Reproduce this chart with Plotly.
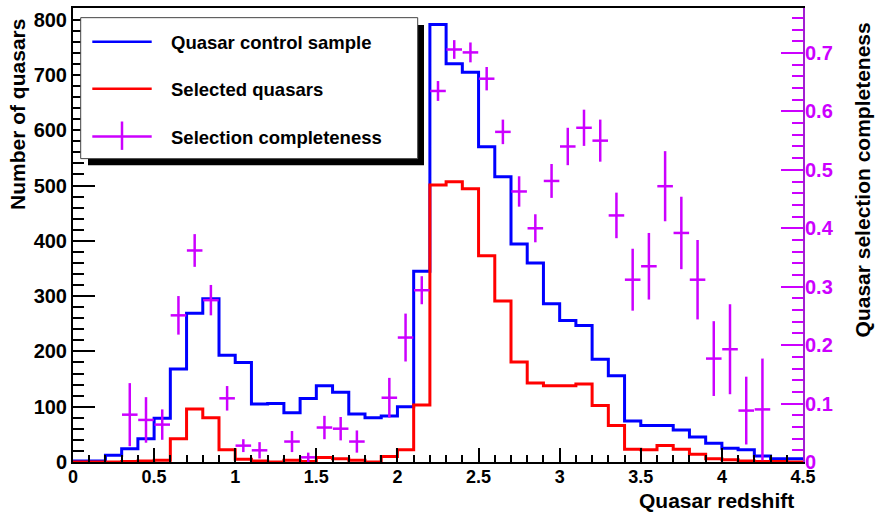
import plotly.graph_objects as go

# ---------------- data ----------------
bin_edges = [0.0, 0.1, 0.2, 0.3, 0.4, 0.5, 0.6, 0.7, 0.8, 0.9, 1.0, 1.1, 1.2, 1.3, 1.4,
             1.5, 1.6, 1.7, 1.8, 1.9, 2.0, 2.1, 2.2, 2.3, 2.4, 2.5, 2.6, 2.7, 2.8, 2.9,
             3.0, 3.1, 3.2, 3.3, 3.4, 3.5, 3.6, 3.7, 3.8, 3.9, 4.0, 4.1, 4.2, 4.3, 4.4, 4.5]

control_sample = [2, 2, 12, 24, 42, 79, 168, 269, 295, 193,
                  180, 105, 106, 89, 115, 138, 126, 87, 80, 83,
                  100, 345, 791, 720, 705, 570, 516, 394, 360, 286,
                  256, 247, 186, 156, 74, 66, 66, 58, 45, 34,
                  25, 22, 11, 6, 6]

selected_quasars = [0, 0, 0, 1, 2, 3, 42, 96, 80, 22,
                    5, 2, 0, 3, 1, 8, 6, 3, 0, 10,
                    22, 103, 501, 507, 494, 373, 291, 181, 143, 138,
                    138, 141, 102, 66, 23, 22, 30, 23, 14, 6,
                    4, 2, 1, 1, 0]

comp_z = [0.35, 0.45, 0.55, 0.65, 0.75, 0.85, 0.95, 1.05, 1.15,
          1.35, 1.45, 1.55, 1.65, 1.75,
          1.95, 2.05, 2.15, 2.25, 2.35, 2.45, 2.55, 2.65, 2.75, 2.85, 2.95,
          3.05, 3.15, 3.25, 3.35, 3.45, 3.55, 3.65, 3.75, 3.85, 3.95, 4.05, 4.15, 4.25]
completeness = [0.081, 0.072, 0.064, 0.251, 0.362, 0.277, 0.109, 0.028, 0.020,
                0.035, 0.008, 0.059, 0.057, 0.035,
                0.110, 0.213, 0.294, 0.635, 0.706, 0.701, 0.656, 0.565, 0.463, 0.400, 0.481,
                0.540, 0.572, 0.550, 0.422, 0.312, 0.335, 0.472, 0.392, 0.312, 0.177, 0.193, 0.088, 0.090]
completeness_err = [0.054, 0.039, 0.026, 0.033, 0.028, 0.026, 0.021, 0.011, 0.014,
                    0.018, 0.008, 0.020, 0.020, 0.019,
                    0.034, 0.041, 0.024, 0.017, 0.016, 0.017, 0.020, 0.021, 0.026, 0.024, 0.029,
                    0.032, 0.031, 0.036, 0.039, 0.053, 0.057, 0.060, 0.062, 0.068, 0.064, 0.077, 0.058, 0.087]
bin_half_width = 0.048

legend_labels = ["Quasar control sample", "Selected quasars", "Selection completeness"]

# ---------------- style ----------------
BLUE = "#0000ff"
RED = "#ff0000"
MAG = "#cc00ff"
AXIS2 = "#a21fd0"
FONT = "Liberation Sans, Arial, Helvetica, sans-serif"

W, H = 876, 512
L, R, T, B = 73, 73, 6, 50
PW, PH = W - L - R, H - T - B


def px(x):
    return (x - L) / PW


def py(y):
    return (H - B - y) / PH


def step(values):
    return bin_edges, list(values) + [values[-1]]


fig = go.Figure()

xs, ys = step(control_sample)
fig.add_trace(go.Scatter(x=xs, y=ys, mode="lines", line=dict(color=BLUE, width=3, shape="hv"),
                         name=legend_labels[0], showlegend=False))
xs, ys = step(selected_quasars)
fig.add_trace(go.Scatter(x=xs, y=ys, mode="lines", line=dict(color=RED, width=3, shape="hv"),
                         name=legend_labels[1], showlegend=False))
fig.add_trace(go.Scatter(
    x=comp_z, y=completeness, yaxis="y2", mode="markers",
    marker=dict(size=1, color=MAG, opacity=0),
    error_y=dict(type="data", array=completeness_err, color=MAG, thickness=2.5, width=0),
    error_x=dict(type="constant", value=bin_half_width, color=MAG, thickness=2.5, width=0),
    name=legend_labels[2], showlegend=False))

# ---------------- legend (manual, ROOT style) ----------------
shapes = []
shapes.append(dict(type="rect", xref="paper", yref="paper",
                   x0=px(88), x1=px(424), y0=py(164), y1=py(23),
                   fillcolor="black", line=dict(width=0), layer="above"))
shapes.append(dict(type="rect", xref="paper", yref="paper",
                   x0=px(80.7), x1=px(417.7), y0=py(157.3), y1=py(15.7),
                   fillcolor="white", line=dict(color="#444444", width=1), layer="above"))
row_y = [40, 87, 135]
colors = [BLUE, RED, MAG]
for yy, col in zip(row_y, colors):
    shapes.append(dict(type="line", xref="paper", yref="paper",
                       x0=px(92.3), x1=px(151.7), y0=py(yy), y1=py(yy),
                       line=dict(color=col, width=2.5), layer="above"))
shapes.append(dict(type="line", xref="paper", yref="paper",
                   x0=px(122), x1=px(122), y0=py(148.5), y1=py(120),
                   line=dict(color=MAG, width=2.5), layer="above"))

annotations = []
for yy, lab in zip(row_y, legend_labels):
    annotations.append(dict(text=lab, xref="paper", yref="paper", x=px(169), y=py(yy + 1),
                            xanchor="left", yanchor="middle", showarrow=False,
                            font=dict(family=FONT, size=18.5, color="black", weight="bold")))

# axis titles
annotations.append(dict(text="Quasar redshift", xref="paper", yref="paper", x=px(796), y=py(501),
                        xanchor="right", yanchor="middle", showarrow=False,
                        font=dict(family=FONT, size=21, color="black", weight="bold")))
annotations.append(dict(text="Number of quasars", xref="paper", yref="paper", x=px(17.5), y=py(15),
                        xanchor="center", yanchor="top", textangle=-90, showarrow=False,
                        font=dict(family=FONT, size=21, color="black", weight="bold")))
annotations.append(dict(text="Quasar selection completeness", xref="paper", yref="paper", x=px(862),
                        y=py(19), xanchor="center", yanchor="top", textangle=-90, showarrow=False,
                        font=dict(family=FONT, size=21, color="black", weight="bold")))

fig.update_layout(
    width=W, height=H,
    margin=dict(l=L, r=R, t=T, b=B, pad=0),
    paper_bgcolor="white", plot_bgcolor="white",
    showlegend=False,
    shapes=shapes, annotations=annotations,
    xaxis=dict(range=[0, 4.5], showgrid=False, zeroline=False,
               showline=True, linecolor="black", linewidth=1.5, mirror=True,
               ticks="inside", ticklen=14, tickwidth=1.5, tickcolor="black",
               tick0=0, dtick=0.5, ticklabelstandoff=-2,
               minor=dict(ticks="inside", ticklen=7, tickwidth=1.5, tickcolor="black", dtick=0.1),
               tickfont=dict(family="Liberation Sans Narrow, " + FONT, size=18, color="black", weight="bold")),
    yaxis=dict(range=[0, 821], showgrid=False, zeroline=False,
               showline=True, linecolor="black", linewidth=2,
               ticks="inside", ticklen=22, tickwidth=1.5, tickcolor="black",
               tick0=0, dtick=100,
               minor=dict(ticks="inside", ticklen=11, tickwidth=1.5, tickcolor="black", dtick=20),
               tickfont=dict(family=FONT, size=20, color="black", weight="bold")),
    yaxis2=dict(range=[0, 0.777], overlaying="y", side="right", showgrid=False, zeroline=False,
                showline=True, linecolor=AXIS2, linewidth=2,
                ticks="inside", ticklen=22, tickwidth=1.5, tickcolor=MAG,
                tick0=0, dtick=0.1, ticklabelstandoff=-4,
                minor=dict(ticks="inside", ticklen=11, tickwidth=1.5, tickcolor=MAG, dtick=0.02),
                tickfont=dict(family=FONT, size=20, color=MAG, weight="bold")),
)

fig.write_html("out.html", config={"displayModeBar": False},
               post_script="document.body.style.margin='0';document.body.style.padding='0';")
